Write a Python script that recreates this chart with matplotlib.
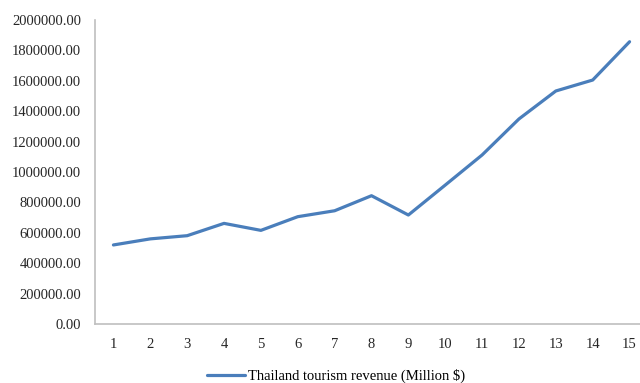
import matplotlib
matplotlib.use("Agg")
import matplotlib.pyplot as plt
from matplotlib.ticker import FuncFormatter, MultipleLocator

periods = list(range(1, 16))
revenue = [520000, 560000, 581000, 662000, 616000, 706000, 745000, 844000,
           717000, 914000, 1112000, 1349000, 1533000, 1605000, 1857000]
series_label = "Thailand tourism revenue (Million $)"

plt.rcParams['font.family'] = ['Liberation Serif', 'DejaVu Serif']

fig = plt.figure(figsize=(6.4, 3.83), dpi=100)
ax = fig.add_axes([95/640, 59/383, 553/640, 304/383])
line, = ax.plot(periods, revenue, color='#4A7EBB', lw=2.3, solid_capstyle='round',
                solid_joinstyle='round', label=series_label)
ax.set_xlim(0.5, 15.5)
ax.set_ylim(0, 2000000)
ax.yaxis.set_major_locator(MultipleLocator(200000))
ax.yaxis.set_major_formatter(FuncFormatter(lambda v, p: f"{v:.2f}"))
ax.set_xticks(periods)
for s in ['top', 'right']:
    ax.spines[s].set_visible(False)
for s in ['left', 'bottom']:
    ax.spines[s].set_color('#BFBFBF')
    ax.spines[s].set_linewidth(1.2)
ax.tick_params(axis='both', length=0, labelsize=10.5, colors='#262626')
ax.tick_params(axis='y', pad=10)
ax.tick_params(axis='x', pad=10)
fig.legend(handles=[line], loc='lower center', bbox_to_anchor=(0.525, -0.035),
           frameon=False, fontsize=10.5, handlelength=2.6, handletextpad=0.2)
fig.savefig("out.png", dpi=100)
